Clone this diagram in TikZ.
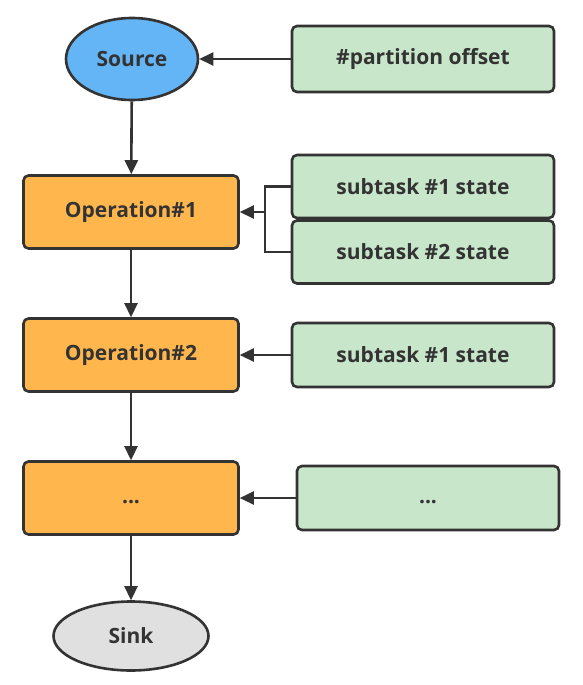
\documentclass[tikz,border=0pt]{standalone}
\usepackage{fontspec}
\setmainfont{Open Sans}
\usetikzlibrary{arrows.meta,shapes.geometric}
\definecolor{ink}{HTML}{333333}
\definecolor{blue1}{HTML}{64B5F6}
\definecolor{orange1}{HTML}{FFB74D}
\definecolor{green1}{HTML}{C8E6C9}
\definecolor{gray1}{HTML}{E0E0E0}
\tikzset{
  base/.style={draw=ink, line width=2.6pt, text=ink, font=\fontsize{21}{24}\selectfont\bfseries, inner sep=0pt},
  op/.style={base, fill=orange1, rounded corners=5pt, minimum width=215pt, minimum height=73pt},
  st/.style={base, fill=green1, rounded corners=5pt, minimum width=262pt, minimum height=64pt},
  term/.style={base, ellipse},
  dots/.style={text height=11pt, text depth=0pt},
  conn/.style={draw=ink, line width=2.6pt, -{Triangle[length=14pt,width=13pt]}},
  plain/.style={draw=ink, line width=2.6pt},
}
\begin{document}
\begin{tikzpicture}[x=1pt,y=-1pt]
\useasboundingbox (0,0) rectangle (582,685);
\node[term, fill=blue1, minimum width=132pt, minimum height=82pt] (src) at (132,59) {Source};
\node[st, minimum height=66pt] (off) at (423,59) {\#partition offset};
\node[op] (op1) at (131,212) {Operation\#1};
\node[st, minimum height=63pt] (s11) at (423,186.5) {subtask \#1 state};
\node[st, minimum height=63pt] (s12) at (423,252) {subtask \#2 state};
\node[op] (op2) at (131,355) {Operation\#2};
\node[st] (s21) at (423,355) {subtask \#1 state};
\node[op, dots] (op3) at (131,498) {...};
\node[st, dots] (s31) at (428,498) {...};
\node[term, fill=gray1, minimum width=155pt, minimum height=69pt] (sink) at (131,636) {Sink};
\coordinate (br) at (265,212);
\draw[conn] (off) -- (src);
\draw[plain] (s11.west) -| (br) |- (s12.west);
\draw[conn] (br) -- (op1.east);
\draw[conn] (s21) -- (op2);
\draw[conn] (s31) -- (op3);
\draw[conn] (src) -- (op1);
\draw[conn] (op1) -- (op2);
\draw[conn] (op2) -- (op3);
\draw[conn] (op3) -- (sink);
\end{tikzpicture}
\end{document}
